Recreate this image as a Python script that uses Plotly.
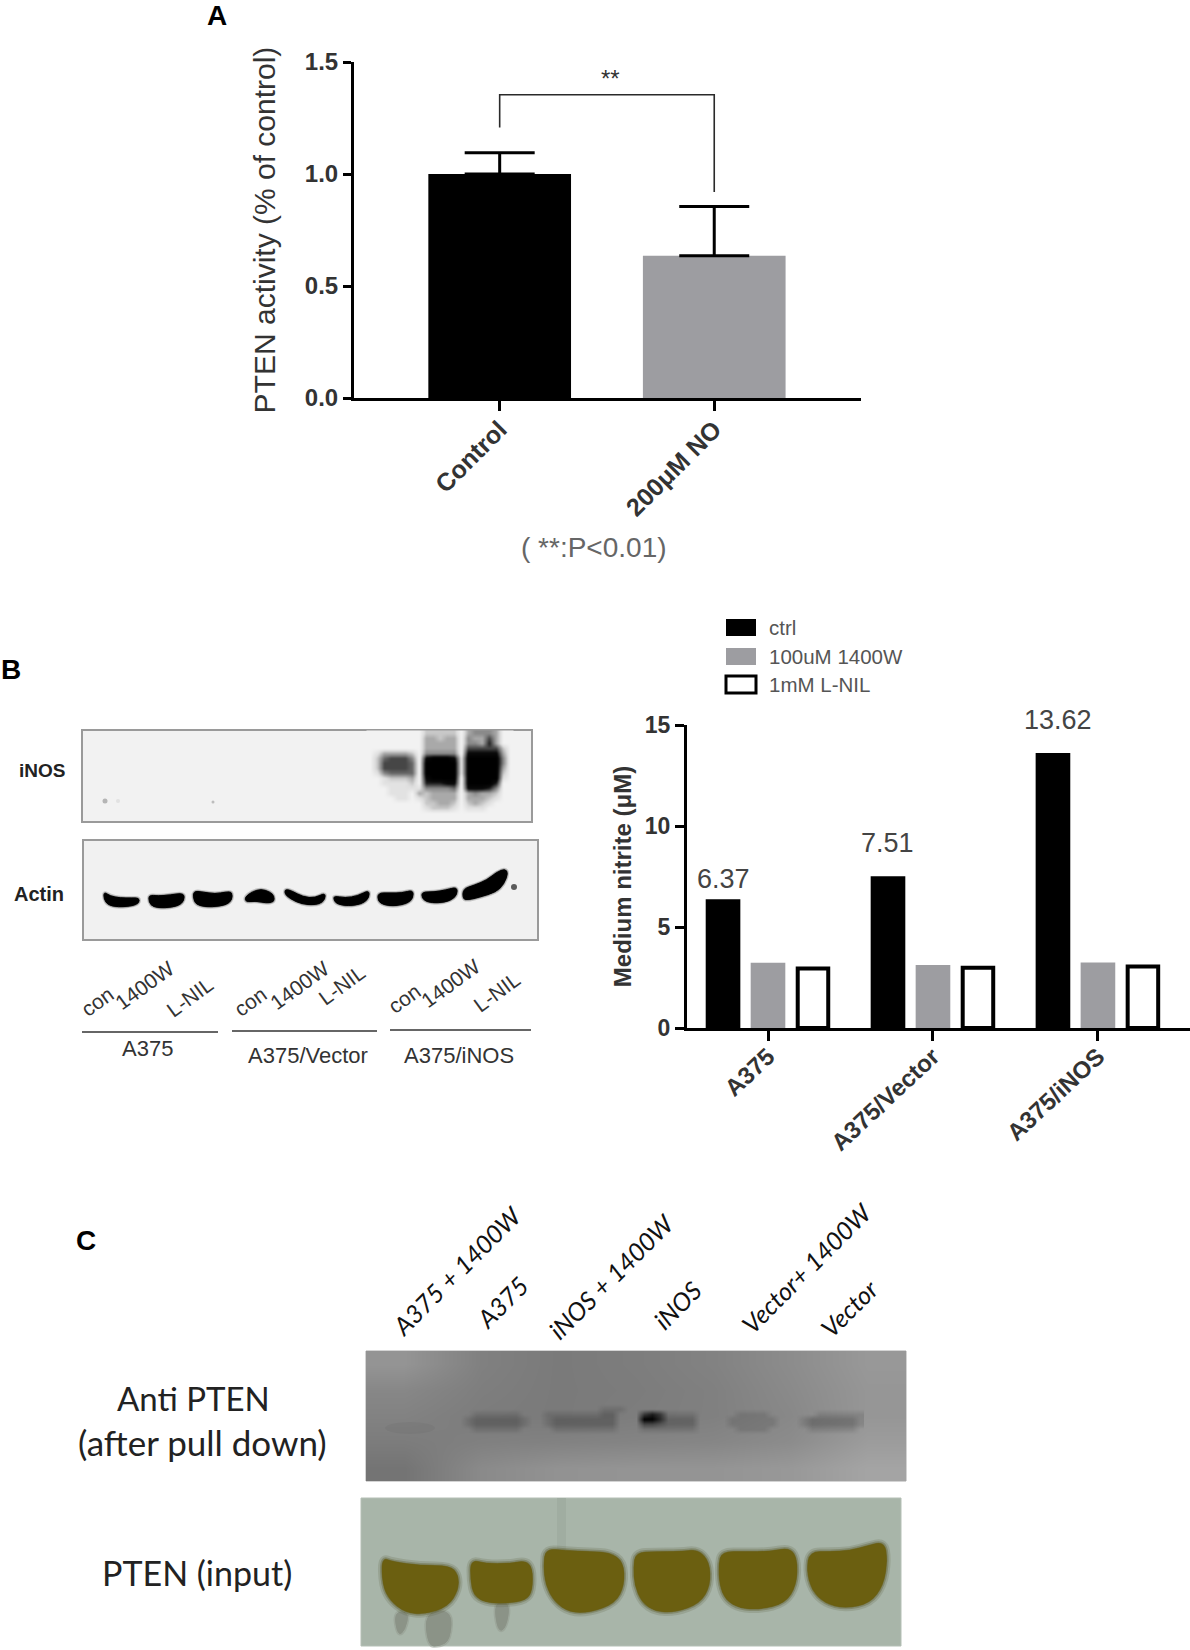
import plotly.graph_objects as go

W, H = 1190, 1650

# ---- Panel A data ----
a_categories = ["Control", "200μM NO"]
a_values = [1.0, 0.635]
a_errors = [0.095, 0.22]
a_colors = ["#000000", "#9d9da1"]
a_ticks = [0.0, 0.5, 1.0, 1.5]
a_bracket_y = [1.208, 1.354, 1.354, 0.92]

# ---- Panel B data ----
b_categories = ["A375", "A375/Vector", "A375/iNOS"]
b_ctrl = [6.37, 7.51, 13.62]
b_1400w = [3.23, 3.12, 3.24]
b_lnil = [2.94, 2.98, 3.05]
b_ticks = [0, 5, 10, 15]
b_legend = ["ctrl", "100uM 1400W", "1mM L-NIL"]

# ---- Blot densities, one digit per cell ----
inos_rows = [
    "000000002222203444300",
    "000000003323304336300",
    "000000003333304437300",
    "000000003333306666620",
    "013333204444408888830",
    "025666408999819999940",
    "026666509999919999940",
    "026666509999919999930",
    "014555509999919999920",
    "001222308999909999910",
    "001111207778809999700",
    "000111114444508887400",
    "000111032333303433200",
    "000011012333303332100",
    "000000002233202321000",
    "000000001222101110000",
    "000000000000000000000",
]
pull_background = [
    [148, 128, 122, 125, 130, 140, 152],
    [135, 126, 122, 124, 128, 138, 150],
    [130, 124, 122, 125, 128, 136, 150],
    [124, 128, 130, 132, 134, 140, 156],
    [116, 138, 146, 148, 148, 152, 164],
]
pull_rows = [
    "000000000000000000000000000000000000000000000000000",
    "000000000000000000111000000000000000000000000000000",
    "001111110001111111220005751111000001111000000111111"[:51],
    "012222221001222222220009962222000011111100012222221",
    "012222221001222222220004432222000011111100012222221",
    "001111110000111111110001111111000001111000001111110",
    "000000000000000000000000000000000000000000000000000",
]

actin_bands = [
    [(104,892),(110,896),(120,898),(132,898),(139,898),(139,903),(132,906),(118,907),(108,905),(104,899)],
    [(149,895),(158,896),(170,895),(184,893),(184,901),(178,906),(165,908),(153,907),(149,902)],
    [(193,891),(203,892),(215,894),(226,892),(232,892),(232,900),(226,905),(212,907),(200,906),(194,902)],
    [(245,897),(252,892),(261,889),(270,892),(274,896),(274,902),(266,903),(256,901),(246,902)],
    [(285,889),(292,891),(303,897),(315,898),(325,893),(325,899),(320,904),(308,905),(296,902),(285,895)],
    [(334,896),(345,898),(358,896),(369,890),(369,898),(362,904),(348,906),(337,904),(334,900)],
    [(378,893),(390,893),(402,893),(413,890),(413,898),(408,903),(396,906),(384,905),(378,901)],
    [(422,892),(434,892),(446,890),(457,887),(457,895),(450,901),(438,903),(427,902),(422,898)],
    [(463,889),(475,885),(487,880),(497,872),(505,869),(508,873),(504,884),(496,892),(480,897),(468,900),(463,899)],
]
input_bands = [
    [(382,1558),(392,1562),(420,1566),(450,1566),(458,1575),(458,1590),(448,1606),(425,1614),(405,1612),(390,1600),(383,1585)],
    [(471,1560),(485,1564),(510,1564),(525,1561),(532,1568),(532,1590),(526,1600),(505,1603),(485,1602),(474,1595),(471,1580)],
    [(546,1549),(565,1551),(590,1552),(610,1553),(623,1562),(624,1585),(615,1603),(590,1612),(570,1612),(555,1602),(546,1585),(544,1565)],
    [(636,1553),(655,1552),(680,1552),(698,1550),(709,1562),(710,1585),(700,1603),(675,1612),(655,1611),(642,1602),(635,1585),(634,1567)],
    [(722,1552),(745,1552),(770,1552),(790,1548),(797,1560),(796,1585),(785,1603),(760,1609),(740,1608),(726,1600),(720,1585),(719,1565)],
    [(810,1552),(830,1552),(850,1551),(868,1546),(884,1542),(887,1560),(883,1585),(870,1603),(845,1608),(825,1603),(812,1590),(807,1570)],
]
input_smears = [
    [(394,1612),(409,1612),(405,1630),(398,1636)],
    [(425,1612),(452,1610),(450,1640),(440,1646),(428,1646)],
    [(494,1602),(510,1602),(506,1628),(498,1632)],
]

# ---- Text placed on the page ----
lane_labels = [("con",97,1001),("1400W",144,985),("L-NIL",189,997),
               ("con",250,1001),("1400W",299,985),("L-NIL",341,985),
               ("con",404,998),("1400W",450,983),("L-NIL",496,992)]
lane_rules = [(82,218,1032),(232,377,1031),(390,531,1030)]
lane_groups = [("A375",147,1048),("A375/Vector",308,1055),("A375/iNOS",459,1055)]
c_labels = [("A375 + 1400W",456,1271),("A375",502,1302),("iNOS + 1400W",611,1276),
            ("iNOS",677,1305),("Vector+ 1400W",806,1268),("Vector",849,1308)]

FONT = "Liberation Sans"
fig = go.Figure()

# Panel A
fig.add_bar(x=a_categories, y=a_values, width=0.665, marker=dict(color=a_colors, line_width=0),
            error_y=dict(type="data", symmetric=False, array=a_errors, arrayminus=[0, 0],
                         color="#000000", thickness=3, width=35),
            showlegend=False, xaxis="x", yaxis="y")
fig.add_scatter(x=[a_categories[0], a_categories[0], a_categories[1], a_categories[1]], y=a_bracket_y,
                mode="lines", line=dict(color="#2a2a2a", width=1.6), showlegend=False,
                xaxis="x", yaxis="y")

# Panel B
fig.add_bar(x=b_categories, y=b_ctrl, name=b_legend[0], marker=dict(color="#000000", line_width=0),
            showlegend=False, xaxis="x2", yaxis="y2")
fig.add_bar(x=b_categories, y=b_1400w, name=b_legend[1], marker=dict(color="#9d9da1", line_width=0),
            showlegend=False, xaxis="x2", yaxis="y2")
fig.add_bar(x=b_categories, y=b_lnil, name=b_legend[2], width=0.185,
            marker=dict(color="#ffffff", line=dict(color="#000000", width=4)),
            showlegend=False, xaxis="x2", yaxis="y2")


def zrows(rows):
    return [[int(c) for c in r] for r in rows]


# Blot density layers on a page-sized hidden axis
fig.add_heatmap(z=zrows(inos_rows), x0=370, dx=7, y0=733, dy=5, zmin=0, zmax=9, zsmooth="best",
                colorscale=[[0, "#f2f2f2"], [0.15, "#dcdcdc"], [0.5, "#7a7a7a"], [0.85, "#0c0c0c"], [1, "#000000"]],
                showscale=False, hoverinfo="skip", xaxis="x3", yaxis="y3")
fig.add_heatmap(z=pull_background, x0=366 + 540 / 14, dx=540 / 7, y0=1351 + 13, dy=26, zmin=0, zmax=255,
                zsmooth="best", colorscale=[[0, "#000000"], [1, "#ffffff"]],
                showscale=False, hoverinfo="skip", xaxis="x3", yaxis="y3")
fig.add_heatmap(z=zrows(pull_rows), x0=460, dx=8, y0=1404, dy=5, zmin=0, zmax=9, zsmooth="best",
                colorscale=[[0, "rgba(0,0,0,0)"], [1, "rgba(0,0,0,1)"]],
                showscale=False, hoverinfo="skip", xaxis="x3", yaxis="y3")

shapes = []


def rect(x0, y0, x1, y1, fill, line=None, lw=0, layer="below"):
    shapes.append(dict(type="rect", xref="x3", yref="y3", x0=x0, y0=y0, x1=x1, y1=y1,
                       fillcolor=fill, line=dict(color=line or fill, width=lw), layer=layer))


def smooth(pts):
    n = len(pts)
    mids = [((pts[i][0] + pts[(i + 1) % n][0]) / 2, (pts[i][1] + pts[(i + 1) % n][1]) / 2) for i in range(n)]
    d = f"M{mids[-1][0]},{mids[-1][1]}"
    for i in range(n):
        d += f" Q{pts[i][0]},{pts[i][1]} {mids[i][0]},{mids[i][1]}"
    return d + " Z"


def blob(pts, fill, halos):
    d = smooth(pts)
    for col, w in halos:
        shapes.append(dict(type="path", xref="x3", yref="y3", path=d, fillcolor=col,
                           line=dict(color=col, width=w), layer="above"))
    shapes.append(dict(type="path", xref="x3", yref="y3", path=d, fillcolor=fill,
                       line=dict(color=fill, width=1), layer="above"))


rect(82, 730, 532, 822, "#f2f2f2", "#9a9a9a", 2)
rect(83, 840, 538, 940, "#f1f1f1", "#9a9a9a", 2)
rect(366, 1351, 906, 1481, "#8c8c8c", "#a8a8a8", 1)
rect(361, 1498, 901, 1646, "#a8b5a9", "#b4bfb5", 1)
rect(557, 1498, 566, 1550, "#a0ada1", layer="above")

for b in actin_bands:
    blob(b, "#000000", [("rgba(0,0,0,0.18)", 4), ("rgba(0,0,0,0.35)", 2)])
for s in input_smears:
    blob(s, "#8b9387", [("rgba(139,147,135,0.4)", 4)])
for b in input_bands:
    blob(b, "#6b5f10", [("rgba(90,95,60,0.2)", 9), ("rgba(90,90,40,0.35)", 5), ("rgba(100,90,20,0.6)", 2)])

# specks on the membranes
for cx, cy, r, col in [(105, 801, 2.5, "#b5b5b5"), (118, 801, 2, "#e2e2e2"), (213, 802, 1.5, "#bdbdbd"),
                       (514, 887, 3, "rgba(40,40,40,0.75)"), (410, 1428, 25, "rgba(0,0,0,0.04)")]:
    shapes.append(dict(type="circle", xref="x3", yref="y3", x0=cx - r, x1=cx + r, y0=cy - min(r, 6), y1=cy + min(r, 6),
                       fillcolor=col, line_width=0, layer="above"))

for x0, x1, y in lane_rules:
    shapes.append(dict(type="line", xref="x3", yref="y3", x0=x0, x1=x1, y0=y, y1=y,
                       line=dict(color="#666666", width=2), layer="above"))

# legend swatches
swatches = [(619, "#000000", None), (648, "#9d9da1", None), (676, "#ffffff", "#000000")]
for y, fill, line in swatches:
    shapes.append(dict(type="rect", xref="x3", yref="y3", x0=726, x1=756, y0=y, y1=y + 17,
                       fillcolor=fill, line=dict(color=line or fill, width=3 if line else 0), layer="above"))

anns = []


def page_text(t, x, y, size, color="#333333", family=FONT, bold=False, angle=0, anchor="center", italic=False):
    if bold:
        t = f"<b>{t}</b>"
    if italic:
        t = f"<i>{t}</i>"
    anns.append(dict(text=t, x=x, y=y, xref="x3", yref="y3", showarrow=False, xanchor=anchor, yanchor="middle",
                     textangle=angle, font=dict(size=size, color=color, family=family)))


page_text("A", 217, 15, 28, "#000000", bold=True)
page_text("B", 11, 669, 28, "#000000", bold=True)
page_text("C", 86, 1240, 28, "#000000", bold=True)
page_text("**", 610, 78, 24, "#333333")
page_text("( **:P<0.01)", 594, 547, 28, "#666666")
page_text("iNOS", 42, 770, 19, "#222222", bold=True)
page_text("Actin", 39, 894, 20, "#222222", bold=True)
for t, x, y in lane_labels:
    page_text(t, x, y, 21, "#333333", angle=-36)
for t, x, y in lane_groups:
    page_text(t, x, y, 22, "#333333")
for (y, _, _), t in zip(swatches, b_legend):
    page_text(t, 767, y + 8, 20.5, "#555555", anchor="left")
for t, x, y in c_labels:
    page_text(t, x, y, 25, "#111111", family="Lato", angle=-45, italic=True)
page_text("Anti PTEN", 193, 1398, 33, "#222222", family="Lato")
page_text("(after pull down)", 202, 1442, 35, "#222222", family="Lato")
page_text("PTEN (input)", 197, 1572, 34, "#222222", family="Lato")

# value labels tied to the bars
for cat, val, xs, ys in zip(b_categories, b_ctrl, [-44, -45, -40], [20, 33, 33]):
    anns.append(dict(text=f"{val:.2f}", x=cat, y=val, xref="x2", yref="y2", xshift=xs, yshift=ys, showarrow=False,
                     font=dict(size=27, color="#444444", family=FONT)))

axis_common = dict(showline=True, linecolor="#000000", linewidth=3, ticks="outside", tickwidth=3,
                   tickcolor="#000000", showgrid=False, zeroline=False, automargin=False)

fig.update_layout(
    width=W, height=H, autosize=False, margin=dict(l=0, r=0, t=0, b=0),
    paper_bgcolor="#ffffff", plot_bgcolor="rgba(0,0,0,0)",
    barmode="group", bargap=0.182, bargroupgap=0.23,
    font=dict(family=FONT, color="#222222"),
    shapes=shapes, annotations=anns,
    xaxis=dict(domain=[354 / W, 861 / W], anchor="y", range=[-0.679, 1.684], type="category",
               tickangle=-45, ticklen=10, ticklabelstandoff=-6,
               tickfont=dict(size=25, family=FONT, weight="bold", color="#333333"),
               **axis_common),
    yaxis=dict(domain=[1 - 398 / H, 1 - 62 / H], anchor="x", range=[0, 1.5], tickvals=a_ticks,
               tickformat=".1f", ticklen=8, tickfont=dict(size=24, family=FONT, weight="bold", color="#333333"),
               title=dict(text="PTEN activity (% of control)", standoff=21,
                          font=dict(size=30, family=FONT, color="#333333")),
               **axis_common),
    xaxis2=dict(domain=[687 / W, 1], anchor="y2", range=[-0.491, 2.558], type="category",
                tickangle=-43, ticklen=10, ticklabelstandoff=-8,
                tickfont=dict(size=24, family=FONT, weight="bold", color="#333333"),
                **axis_common),
    yaxis2=dict(domain=[1 - 1028 / H, 1 - 725 / H], anchor="x2", range=[0, 15], tickvals=b_ticks,
                ticklen=9, tickfont=dict(size=23, family=FONT, weight="bold", color="#333333"),
                title=dict(text="<b>Medium nitrite (μM)</b>", standoff=7,
                           font=dict(size=24, family=FONT, color="#333333")),
                **axis_common),
    xaxis3=dict(domain=[0, 1], anchor="y3", range=[0, W], visible=False, automargin=False),
    yaxis3=dict(domain=[0, 1], anchor="x3", range=[H, 0], visible=False, automargin=False),
)

fig.write_html("out.html", config=dict(displayModeBar=False),
               post_script="document.body.style.margin='0';document.body.style.overflow='hidden';")
